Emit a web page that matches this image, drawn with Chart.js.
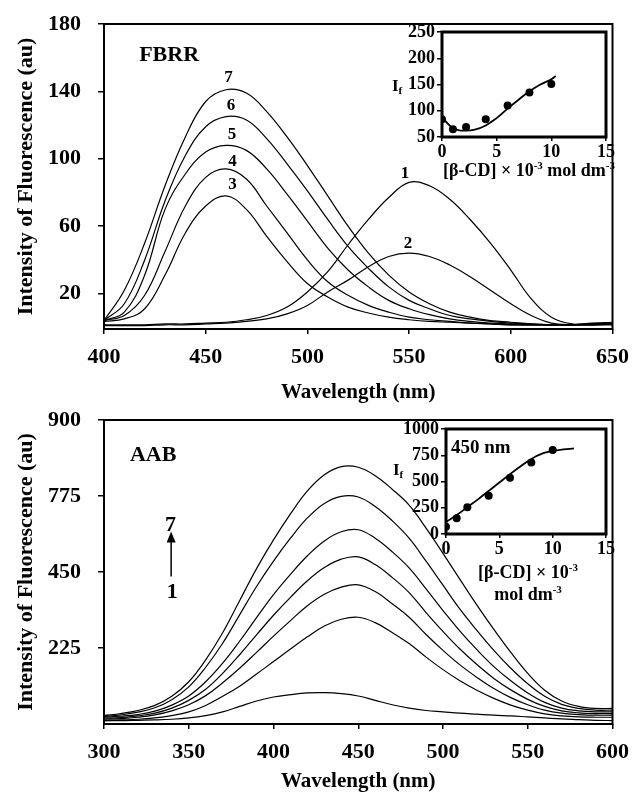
<!DOCTYPE html>
<html>
<head>
<meta charset="utf-8">
<script src="https://cdn.jsdelivr.net/npm/chart.js@4.4.1/dist/chart.umd.min.js"></script>
<style>
  html, body { margin: 0; padding: 0; background: #fff; }
  body { width: 639px; height: 798px; position: relative; overflow: hidden; }
  .panel { position: absolute; }
</style>
</head>
<body>
<div class="panel" style="left:0;top:0;width:639px;height:405px"><canvas id="fbrr"></canvas></div>
<div class="panel" style="left:0;top:398px;width:639px;height:400px"><canvas id="aab"></canvas></div>
<div class="panel" style="left:380px;top:20px;width:259px;height:170px"><canvas id="fbrrInset"></canvas></div>
<div class="panel" style="left:380px;top:415px;width:259px;height:200px"><canvas id="aabInset"></canvas></div>
<script>
const FONT = '"Liberation Serif", "Times New Roman", serif';

// FBRR spectra, curves 1..7
const fbrrWavelength = [400, 410, 420, 430, 440, 450, 460, 470, 480, 490, 500, 510, 520,
                        530, 540, 550, 560, 570, 580, 590, 600, 610, 620, 630, 640, 650];
const fbrr1 = [1.5, 1.5, 1.5, 2, 2, 2.5, 3, 4.5, 7, 12, 21, 33, 49, 64, 77, 86, 84, 76, 64, 50, 34, 17, 6, 2, 2, 2];
const fbrr2 = [1, 1, 1, 1.5, 1.5, 2, 2.5, 3.5, 5, 8, 13, 21, 28, 36, 42, 44, 42, 37, 30, 22, 14, 7, 2.5, 1.5, 1.5, 1.5];
const fbrr3 = [3.5, 5, 11, 31, 56, 72, 78, 70, 54, 39, 26, 18, 12, 8.5, 6, 4.5, 3.5, 3, 2.5, 2, 1.5, 1.5, 1.5, 1.5, 1.5, 2];
const fbrr4 = [4, 7, 19, 45, 72, 89, 94, 88, 72, 56, 40, 27, 19, 13, 9, 6, 4.5, 3.5, 2.5, 2, 1.5, 1.5, 1.5, 1.5, 1.5, 2];
const fbrr5 = [4, 9, 31, 70, 91, 104, 108, 105, 94, 79, 63, 47, 34, 24, 16, 11, 7.5, 5, 3.5, 2.5, 2, 1.5, 1.5, 1.5, 2, 2];
const fbrr6 = [4, 14, 40, 75, 102, 119, 125, 123, 112, 97, 81, 64, 48, 35, 24, 16, 11, 7, 5, 3.5, 2.5, 2, 1.5, 1.5, 2, 2.5];
const fbrr7 = [4, 22, 50, 84, 113, 134, 141, 139, 128, 113, 96, 78, 60, 44, 31, 21, 14, 9, 6, 4, 3, 2, 1.5, 1.5, 2.5, 3];
const fbrrYTicks = [20, 60, 100, 140, 180];

// AAB spectra, curves 1..7
const aabWavelength = [300, 310, 320, 330, 340, 350, 360, 370, 380, 390, 400, 410, 420, 430, 440, 450,
                       460, 470, 480, 490, 500, 510, 520, 530, 540, 550, 560, 570, 580, 590, 600];
const aab1 = [10, 10, 11, 12, 14, 18, 25, 36, 52, 68, 80, 87, 92, 93, 90, 83, 70, 57, 47, 40, 36, 32, 29, 26, 24, 21, 18, 15, 13, 11, 10];
const aab2 = [10, 12, 14, 18, 25, 36, 55, 82, 112, 148, 185, 222, 258, 290, 310, 316, 300, 271, 238, 198, 161, 128, 100, 76, 56, 41, 30, 24, 21, 20, 20];
const aab3 = [14, 16, 20, 27, 39, 57, 84, 122, 165, 212, 260, 306, 350, 384, 405, 412, 392, 356, 316, 265, 218, 175, 138, 105, 78, 57, 41, 32, 28, 26, 26];
const aab4 = [17, 19, 24, 32, 47, 70, 103, 150, 205, 264, 322, 375, 424, 463, 488, 495, 472, 434, 389, 330, 274, 222, 176, 135, 101, 73, 52, 39, 33, 31, 31];
const aab5 = [20, 23, 28, 38, 56, 83, 125, 180, 245, 315, 383, 443, 498, 542, 569, 575, 550, 510, 462, 400, 336, 275, 220, 170, 128, 92, 64, 47, 39, 36, 36];
const aab6 = [22, 27, 35, 48, 72, 110, 168, 239, 323, 407, 482, 550, 610, 653, 674, 672, 644, 602, 550, 482, 411, 340, 277, 218, 165, 119, 82, 58, 46, 41, 41];
const aab7 = [25, 31, 40, 55, 82, 125, 190, 270, 365, 460, 545, 622, 690, 738, 762, 760, 735, 695, 648, 580, 505, 428, 352, 280, 212, 150, 100, 68, 52, 46, 46];
const aabYTicks = [225, 450, 675, 900];
const aabYTickLabels = ['225', '450', '775', '900'];

// insets: If against [beta-CD]
const fbrrCd = [0, 1, 2.2, 4, 6, 8, 10];
const fbrrIf = [84, 65, 69, 84, 110, 135, 151];
const fbrrFitCd = [0, 0.5, 1, 1.5, 2, 3, 4, 5, 6, 7, 8, 9, 10, 10.4];
const fbrrFitIf = [88, 76, 67, 63, 62, 64, 72, 86, 104, 121, 137, 150, 160, 166];
const aabCd = [0, 1, 2, 4, 6, 8, 10];
const aabIf = [70, 150, 255, 365, 535, 680, 800];
const aabFitCd = [0, 1, 2, 3, 4, 5, 6, 7, 8, 9, 10, 11, 12];
const aabFitIf = [115, 180, 255, 330, 410, 490, 570, 645, 715, 765, 790, 805, 815];

function toXY(xs, ys) {
  return xs.map((x, i) => ({x: x, y: ys[i]}));
}

function boldFont(size) {
  return 'bold ' + size + 'px ' + FONT;
}

// text with super/subscripts, parts = [[text, 'n'|'sup'|'sub'], ...]
function richText(ctx, parts, x, y, size, align) {
  const fontFor = k => boldFont(k === 'n' ? size : Math.round(size * 0.62));
  let w = 0;
  parts.forEach(p => { ctx.font = fontFor(p[1]); w += ctx.measureText(p[0]).width; });
  let cx = align === 'center' ? x - w / 2 : x;
  ctx.textAlign = 'left';
  ctx.textBaseline = 'alphabetic';
  parts.forEach(p => {
    ctx.font = fontFor(p[1]);
    const dy = p[1] === 'sup' ? -size * 0.38 : p[1] === 'sub' ? size * 0.2 : 0;
    ctx.fillText(p[0], cx, y + dy);
    cx += ctx.measureText(p[0]).width;
  });
}

const framePlugin = {
  id: 'frame',
  afterDatasetsDraw(chart, args, opts) {
    const a = chart.chartArea, ctx = chart.ctx;
    ctx.save();
    ctx.strokeStyle = '#000';
    ctx.lineWidth = opts.width || 2;
    ctx.strokeRect(a.left, a.top, a.right - a.left, a.bottom - a.top);
    ctx.restore();
  }
};

function notesPlugin(labels, extra) {
  return {
    id: 'notes',
    afterDraw(chart) {
      const ctx = chart.ctx, sx = chart.scales.x, sy = chart.scales.y;
      ctx.save();
      ctx.fillStyle = '#000';
      ctx.strokeStyle = '#000';
      ctx.textAlign = 'center';
      ctx.textBaseline = 'middle';
      labels.forEach(l => {
        ctx.font = boldFont(l[3]);
        ctx.fillText(l[0], sx.getPixelForValue(l[1]), sy.getPixelForValue(l[2]));
      });
      if (extra) extra(ctx, sx, sy);
      ctx.restore();
    }
  };
}

// fixed axis width, no extra label padding above/below the plot
function fixYAxis(width) {
  return s => { s.width = width; s.paddingTop = 0; s.paddingBottom = 0; };
}

function spectrumChart(id, cfg) {
  const series = cfg.series.map(s => ({
    data: toXY(cfg.wavelength, s),
    borderColor: '#000',
    borderWidth: 1.2,
    pointRadius: 0,
    fill: false,
    tension: 0.4
  }));
  return new Chart(document.getElementById(id), {
    type: 'line',
    data: {datasets: series},
    options: {
      responsive: true,
      maintainAspectRatio: false,
      animation: false,
      layout: {padding: {top: cfg.padTop, right: cfg.padRight, left: 0, bottom: 0}},
      plugins: {legend: {display: false}, tooltip: {enabled: false}, frame: {width: 2}},
      scales: {
        x: {
          type: 'linear', min: cfg.xMin, max: cfg.xMax,
          afterFit: s => { s.height = cfg.xHeight; },
          ticks: {stepSize: 50, color: '#000', font: {family: FONT, weight: 'bold', size: 22}, padding: 10, maxRotation: 0},
          grid: {drawOnChartArea: false, color: '#000', lineWidth: 1.5, tickLength: 5},
          border: {display: false},
          title: {display: true, text: 'Wavelength (nm)', color: '#000',
                  font: {family: FONT, weight: 'bold', size: 21}, padding: {top: 0, bottom: cfg.xTitlePad}}
        },
        y: {
          min: cfg.yMin, max: cfg.yMax,
          afterFit: fixYAxis(104),
          afterBuildTicks: s => { s.ticks = cfg.yTicks.map(v => ({value: v})); },
          ticks: {color: '#000', font: {family: FONT, weight: 'bold', size: 22}, padding: 17,
                  callback: v => cfg.yLabels[cfg.yTicks.indexOf(v)]},
          grid: {drawOnChartArea: false, color: '#000', lineWidth: 1.5, tickLength: 6},
          border: {display: false},
          title: {display: true, text: 'Intensity of Fluorescence (au)', color: '#000',
                  font: {family: FONT, weight: 'bold', size: 22}, padding: {top: 13, bottom: 0}}
        }
      }
    },
    plugins: [framePlugin, notesPlugin(cfg.labels, cfg.extra)]
  });
}

function insetChart(id, cfg) {
  const tickFont = {family: FONT, weight: 'bold', size: 18};
  return new Chart(document.getElementById(id), {
    type: 'scatter',
    data: {datasets: [
      {data: toXY(cfg.fitX, cfg.fitY), showLine: true, pointRadius: 0, borderColor: '#000',
       borderWidth: 1.8, tension: 0.4},
      {data: toXY(cfg.ptX, cfg.ptY), showLine: false, pointRadius: 4,
       pointBackgroundColor: '#000', pointBorderColor: '#000', pointBorderWidth: 0}
    ]},
    options: {
      responsive: true,
      maintainAspectRatio: false,
      animation: false,
      layout: {padding: {top: cfg.padTop, right: cfg.padRight, left: 0, bottom: 0}},
      plugins: {legend: {display: false}, tooltip: {enabled: false}, frame: {width: 3}},
      scales: {
        x: {
          min: 0, max: 15,
          afterFit: s => { s.height = cfg.xHeight; },
          afterBuildTicks: s => { s.ticks = [0, 5, 10, 15].map(v => ({value: v})); },
          ticks: {color: '#000', font: tickFont, padding: 1, maxRotation: 0},
          grid: {drawOnChartArea: false, color: '#000', lineWidth: 1.5, tickLength: 4},
          border: {display: false}
        },
        y: {
          min: cfg.yMin, max: cfg.yMax,
          afterFit: fixYAxis(cfg.yWidth),
          afterBuildTicks: s => { s.ticks = cfg.yTicks.map(v => ({value: v})); },
          ticks: {color: '#000', font: tickFont, padding: 2, callback: v => String(v)},
          grid: {drawOnChartArea: false, color: '#000', lineWidth: 1.5, tickLength: 5},
          border: {display: false}
        }
      }
    },
    plugins: [framePlugin, {
      id: 'insetText',
      afterDraw(chart) {
        const ctx = chart.ctx;
        ctx.save();
        ctx.fillStyle = '#000';
        cfg.texts.forEach(t => richText(ctx, t.parts, t.x, t.y, t.size, t.align));
        ctx.restore();
      }
    }]
  });
}

spectrumChart('fbrr', {
  wavelength: fbrrWavelength,
  series: [fbrr1, fbrr2, fbrr3, fbrr4, fbrr5, fbrr6, fbrr7],
  xMin: 400, xMax: 650, yMin: -1, yMax: 180,
  yTicks: fbrrYTicks, yLabels: fbrrYTicks.map(String),
  padTop: 24, padRight: 17, xHeight: 76, xTitlePad: 0,
  labels: [
    ['FBRR', 432, 161.6, 22],
    ['7', 461.2, 148.3, 17], ['6', 462.4, 131.3, 17], ['5', 462.9, 114.5, 17],
    ['4', 463.2, 98.3, 17], ['3', 463.2, 84.9, 17],
    ['1', 548, 91, 17], ['2', 549.5, 49.9, 17]
  ]
});

spectrumChart('aab', {
  wavelength: aabWavelength,
  series: [aab1, aab2, aab3, aab4, aab5, aab6, aab7],
  xMin: 300, xMax: 600, yMin: 0, yMax: 900,
  yTicks: aabYTicks, yLabels: aabYTickLabels,
  padTop: 22, padRight: 18, xHeight: 74, xTitlePad: 4,
  labels: [
    ['AAB', 329, 794, 22],
    ['7', 339.2, 587, 22], ['1', 340.2, 389, 22]
  ],
  extra: (ctx, sx, sy) => {
    // arrow from curve 1 up to curve 7
    const x = sx.getPixelForValue(339.6);
    const tip = sy.getPixelForValue(570);
    const base = sy.getPixelForValue(437);
    ctx.lineWidth = 1.5;
    ctx.beginPath();
    ctx.moveTo(x, base);
    ctx.lineTo(x, tip + 8);
    ctx.stroke();
    ctx.beginPath();
    ctx.moveTo(x, tip);
    ctx.lineTo(x - 4.5, tip + 11);
    ctx.lineTo(x + 4.5, tip + 11);
    ctx.closePath();
    ctx.fill();
  }
});

const cdTitle = [['[\u03b2-CD] \u00d7 10', 'n'], ['-3', 'sup'], [' mol dm', 'n'], ['-3', 'sup']];

insetChart('fbrrInset', {
  ptX: fbrrCd, ptY: fbrrIf, fitX: fbrrFitCd, fitY: fbrrFitIf,
  yMin: 50, yMax: 250, yTicks: [50, 100, 150, 200, 250],
  yWidth: 62, padTop: 12, padRight: 33, xHeight: 53,
  texts: [
    {parts: [['I', 'n'], ['f', 'sub']], x: 12, y: 71, size: 17, align: 'left'},
    {parts: cdTitle, x: 149, y: 156, size: 18, align: 'center'}
  ]
});

insetChart('aabInset', {
  ptX: aabCd, ptY: aabIf, fitX: aabFitCd, fitY: aabFitIf,
  yMin: 0, yMax: 1000, yTicks: [0, 250, 500, 750, 1000],
  yWidth: 66, padTop: 14, padRight: 33, xHeight: 81,
  texts: [
    {parts: [['450 nm', 'n']], x: 71, y: 38, size: 19, align: 'left'},
    {parts: [['I', 'n'], ['f', 'sub']], x: 13, y: 60, size: 17, align: 'left'},
    {parts: cdTitle.slice(0, 2), x: 148, y: 163, size: 18, align: 'center'},
    {parts: [['mol dm', 'n'], ['-3', 'sup']], x: 148, y: 185, size: 18, align: 'center'}
  ]
});
</script>
</body>
</html>
